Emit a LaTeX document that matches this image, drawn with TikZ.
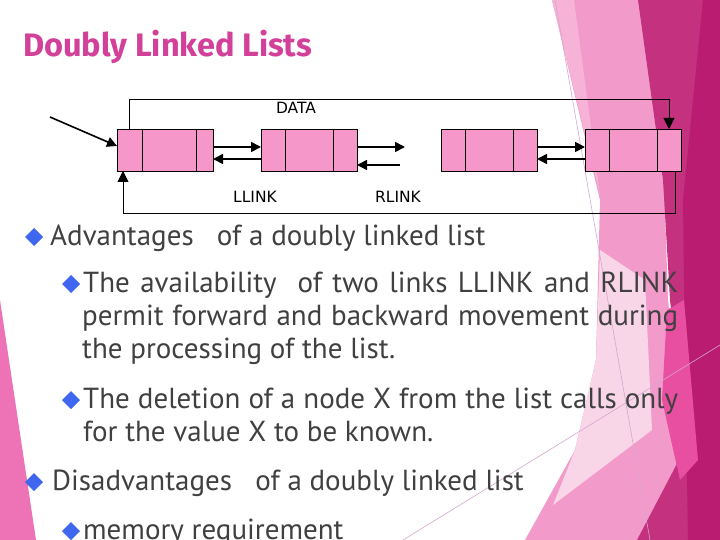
\documentclass[tikz,border=0pt]{standalone}
\usepackage{fontspec}
\usetikzlibrary{arrows.meta}
\newfontfamily\bodyfont{PT Sans}
\newfontfamily\titlefont{Fira Sans}
\newfontfamily\labfont{DejaVu Sans}
\definecolor{cellpink}{HTML}{F598C9}
\definecolor{titlecol}{HTML}{D3409A}
\definecolor{bodycol}{HTML}{404040}
\definecolor{bullcol}{HTML}{3F66EE}
\definecolor{bgpink}{HTML}{F29BCB}
\definecolor{bglight}{HTML}{F6B2D7}
\definecolor{bgvlight}{HTML}{F8D6E8}
\definecolor{bgmag}{HTML}{C3317F}
\definecolor{bgdark}{HTML}{B91C71}
\definecolor{bghot}{HTML}{E94FA0}
\definecolor{bgleft}{HTML}{EE72B6}
\definecolor{thinline}{HTML}{D4A6CE}
\begin{document}
\begin{tikzpicture}[x=1pt,y=-1pt,
  cellbox/.style={draw=black,line width=0.9pt,fill=cellpink,minimum width=96pt,minimum height=42pt,inner sep=0pt,outer sep=0pt},
  divider/.style={draw=black,line width=0.9pt},
  linkline/.style={draw=black,line width=0.9pt,-{Triangle[length=11pt,width=11pt]}},
  ptr/.style={draw=black,line width=1.6pt,-{Triangle[length=10pt,width=10pt]}},
  lab/.style={font=\labfont\fontsize{15.5}{17}\selectfont,inner sep=0pt},
  bodytext/.style={font=\bodyfont\fontsize{29}{34}\selectfont,text=bodycol,anchor=base west,inner sep=0pt},
  bullet/.style={fill=bullcol}
]
\useasboundingbox (0,0) rectangle (720,540);
\fill[white] (0,0) rectangle (720,540);
% background decoration
\fill[bgpink] (552,0) -- (640,0) -- (664,180) -- (668,300) -- (690,480) -- (660,540) -- (525,540) -- (575,450) -- (596,360) -- (600,200) -- cycle;
\fill[bglight] (552,0) -- (574,0) -- (600,195) -- cycle;
\fill[bgvlight] (600,250) -- (645,280) -- (652,430) -- (553,505) -- (575,450) -- (596,360) -- cycle;
\fill[bgmag] (638,0) -- (720,0) -- (720,540) -- (690,540) -- (688,450) -- (670,300) -- (663,180) -- cycle;
\fill[bgmag] (637,540) -- (713,395) -- (720,395) -- (720,540) -- cycle;
\fill[bgdark] (703,0) -- (720,0) -- (720,540) -- (688,540) -- (685,360) -- (683,200) -- cycle;
\fill[bghot] (667,310) -- (684,300) -- (698,460) -- (680,480) -- (662,400) -- cycle;
\fill[bgleft] (0,300) -- (36,540) -- (0,540) -- cycle;
\draw[thinline,line width=0.6pt] (555,0) -- (650,540);
\draw[thinline,line width=0.6pt] (403,540) -- (720,345);
% title
\node[anchor=base west,inner sep=0pt,text=titlecol,font=\titlefont\bfseries\fontsize{32.5}{36}\selectfont] (title) at (23,57) {Doubly Linked Lists};
% list nodes
\node[cellbox] (b1) at (165,150) {};
\node[cellbox] (b2) at (309,150) {};
\node[cellbox] (b3) at (489,150) {};
\node[cellbox] (b4) at (633,150) {};
\draw[divider] ([xshift=25pt]b1.north west) -- ([xshift=25pt]b1.south west);
\draw[divider] ([xshift=79pt]b1.north west) -- ([xshift=79pt]b1.south west);
\foreach \b in {b2,b3,b4}{
  \draw[divider] ([xshift=24pt]\b.north west) -- ([xshift=24pt]\b.south west);
  \draw[divider] ([xshift=72pt]\b.north west) -- ([xshift=72pt]\b.south west);
}
% links
\coordinate (tr) at (669,99);
\coordinate (br) at (675,213);
\draw[linkline] ([xshift=12pt]b1.north west) |- (tr) -- ([xshift=-12pt]b4.north east);
\draw[linkline] ([xshift=-6pt]b4.south east) -- (br) -| ([xshift=6pt]b1.south west);
\coordinate (m1) at (405,147);
\coordinate (m2) at (400,165);
\coordinate (hd) at (50,117);
\draw[ptr] ([yshift=3pt]b1.east) -- ([yshift=3pt]b2.west);
\draw[ptr] ([yshift=-9pt]b2.west) -- ([yshift=-9pt]b1.east);
\draw[ptr] ([yshift=3pt]b2.east) -- (m1);
\draw[ptr] (m2) -- ([yshift=-15pt]b2.east);
\draw[ptr] ([yshift=3pt]b3.east) -- ([yshift=3pt]b4.west);
\draw[ptr] ([yshift=-9pt]b4.west) -- ([yshift=-9pt]b3.east);
\draw[ptr] (hd) -- ([yshift=4pt]b1.west);
\node[lab] (data) at (296,108) {DATA};
\node[lab] (llink) at (255,197) {LLINK};
\node[lab] (rlink) at (398,197) {RLINK};
% bullets
\fill[bullet] (34,228) -- (43,237) -- (34,246) -- (25,237) -- cycle;
\fill[bullet] (71,275) -- (80,284) -- (71,293) -- (62,284) -- cycle;
\fill[bullet] (71,391) -- (80,400) -- (71,409) -- (62,400) -- cycle;
\fill[bullet] (34,473) -- (43,482) -- (34,491) -- (25,482) -- cycle;
\fill[bullet] (71,522) -- (80,531) -- (71,540) -- (62,531) -- cycle;
% text
\node[bodytext] (t1) at (50,245) {Advantages\ \ \ of a doubly linked list};
\node[bodytext] (t2) at (83,292) {\makebox[595pt][s]{The availability\ \ of two links LLINK and RLINK}};
\node[bodytext] (t3) at (82,325) {\makebox[596pt][s]{permit forward and backward movement during}};
\node[bodytext] (t4) at (82,358) {the processing of the list.};
\node[bodytext] (t5) at (83,408) {\makebox[595pt][s]{The deletion of a node X from the list calls only}};
\node[bodytext] (t6) at (83,441) {for the value X to be known.};
\node[bodytext] (t7) at (52,490) {Disadvantages\ \ \ of a doubly linked list};
\node[bodytext] (t8) at (83,539) {memory requirement};
\end{tikzpicture}
\end{document}
